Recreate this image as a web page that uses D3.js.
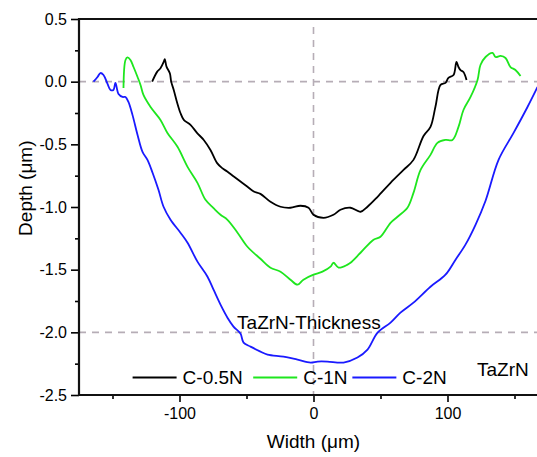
<!DOCTYPE html>
<html>
<head>
<meta charset="utf-8">
<script src="https://cdn.jsdelivr.net/npm/d3@7"></script>
<style>
  body { margin: 0; background: #fff; }
  svg { display: block; font-family: "Liberation Sans", Arial, sans-serif; }
</style>
</head>
<body>
<div class="canvas"></div>
<script>
// C-0.5N profile (width um, depth um)
const widthC05 = [-120.4, -116.6, -114.2, -111.7, -111.0, -109.7, -107.2, -106.2, -104.3, -101.7, -99.3, -96.8, -91.8, -86.8, -81.9, -76.9, -71.9, -68.1, -64.4, -59.5, -54.5, -49.5, -44.6, -39.6, -32.1, -24.6, -17.2, -9.7, -3.7, 0, 7.5, 14.9, 20.1, 27.6, 35.1, 40.3, 47.8, 57.5, 67.2, 74.6, 82.1, 87.3, 91.0, 94.8, 98.5, 100.7, 104.5, 106.7, 108.2, 109.7, 111.9, 114.2]
const depthC05 = [0.00, 0.08, 0.107, 0.16, 0.18, 0.12, 0.067, 0.0, -0.066, -0.17, -0.25, -0.305, -0.345, -0.41, -0.465, -0.545, -0.65, -0.69, -0.717, -0.757, -0.797, -0.837, -0.876, -0.895, -0.958, -0.998, -1.006, -0.99, -1.006, -1.062, -1.086, -1.062, -1.022, -1.006, -1.038, -0.998, -0.919, -0.807, -0.704, -0.624, -0.433, -0.361, -0.20, -0.026, -0.01, 0.03, 0.053, 0.157, 0.117, 0.093, 0.077, 0.014]

// C-1N profile
const widthC1 = [-141.8, -140.3, -138.8, -136.6, -134.3, -131.3, -129.1, -126.9, -121.6, -114.2, -109.0, -101.5, -94.0, -86.6, -80.6, -74.6, -69.4, -64.2, -56.7, -49.3, -39.6, -32.1, -24.6, -17.2, -11.9, -7.5, 0, 6.7, 12.7, 14.9, 18.7, 25.4, 27.6, 35.1, 44.8, 50.0, 57.5, 62.7, 70.1, 74.6, 79.9, 87.3, 92.5, 98.5, 103.7, 108.2, 111.9, 117.2, 122.4, 124.6, 128.4, 133.6, 135.8, 139.6, 143.3, 147.0, 150.7, 154.5]
const depthC1 = [-0.05, 0.173, 0.193, 0.173, 0.117, 0.037, -0.026, -0.106, -0.202, -0.305, -0.409, -0.52, -0.68, -0.807, -0.943, -1.009, -1.062, -1.102, -1.205, -1.317, -1.413, -1.484, -1.516, -1.58, -1.62, -1.58, -1.54, -1.516, -1.476, -1.445, -1.484, -1.46, -1.445, -1.365, -1.261, -1.237, -1.126, -1.078, -1.006, -0.887, -0.704, -0.584, -0.488, -0.465, -0.465, -0.361, -0.226, -0.122, 0.014, 0.133, 0.197, 0.229, 0.197, 0.205, 0.189, 0.117, 0.093, 0.045]

// C-2N profile
const widthC2 = [-164.2, -161.2, -159.0, -156.7, -153.7, -151.5, -149.3, -147.8, -145.5, -142.5, -140.3, -138.1, -135.1, -131.3, -127.6, -123.9, -120.1, -115.7, -111.9, -106.7, -99.3, -94.0, -86.6, -79.1, -74.6, -69.4, -64.2, -59.7, -54.5, -52.2, -47.0, -39.6, -34.3, -22.4, -11.9, -2.2, 3.0, 10.4, 22.4, 32.8, 40.3, 47.8, 57.5, 64.9, 74.6, 87.3, 98.5, 106.0, 113.4, 120.9, 128.4, 138.1, 149.3, 159.7, 167.2]
const depthC2 = [0.0, 0.037, 0.069, 0.053, -0.018, -0.066, -0.066, -0.01, -0.098, -0.122, -0.122, -0.162, -0.265, -0.425, -0.56, -0.624, -0.727, -0.863, -0.998, -1.102, -1.205, -1.285, -1.436, -1.556, -1.66, -1.779, -1.883, -1.954, -2.01, -2.082, -2.114, -2.154, -2.178, -2.194, -2.218, -2.241, -2.233, -2.233, -2.241, -2.201, -2.138, -2.002, -1.922, -1.843, -1.763, -1.636, -1.54, -1.42, -1.30, -1.142, -0.95, -0.624, -0.409, -0.202, -0.042]

const seriesNames = ['C-0.5N', 'C-1N', 'C-2N']
const xMajorTicks = [-100, 0, 100]
const xMinorTicks = [-150, -50, 50, 150]
const yMajorTicks = [0.5, 0.0, -0.5, -1.0, -1.5, -2.0, -2.5]
const yMinorTicks = [0.25, -0.25, -0.75, -1.25, -1.75, -2.25]
const refLinesY = [0.0, -2.0]
const refLineX = 0

const dims = { width: 537, height: 457 }
const plot = { left: 79, right: 548, top: 19, bottom: 395 }
const colors = ['#000000', '#1ee61e', '#1a1aff']

const svg = d3.select('.canvas')
    .append('svg')
    .attr('width', dims.width)
    .attr('height', dims.height)

const x = d3.scaleLinear().domain([-175, 175]).range([plot.left, plot.right])
const y = d3.scaleLinear().domain([-2.5, 0.5]).range([plot.bottom, plot.top])

const fmtY = d => d3.format('.1f')(d).replace('−', '-')
const fmtX = d => String(d)

// dashed reference lines
const refs = svg.append('g')
    .attr('stroke', '#b6adb6')
    .attr('stroke-width', 1.6)
    .attr('stroke-dasharray', '7,6')
refs.selectAll('line.h')
    .data(refLinesY)
    .enter().append('line')
    .attr('x1', plot.left).attr('x2', plot.right)
    .attr('y1', d => y(d)).attr('y2', d => y(d))
refs.append('line')
    .attr('x1', x(refLineX)).attr('x2', x(refLineX))
    .attr('y1', plot.top + 8).attr('y2', plot.bottom)

// profiles
const line = d3.line()
    .x(d => x(d[0]))
    .y(d => y(d[1]))
    .curve(d3.curveCatmullRom)

const series = [
    d3.zip(widthC05, depthC05),
    d3.zip(widthC1, depthC1),
    d3.zip(widthC2, depthC2)
]

svg.append('g').selectAll('path')
    .data(series)
    .enter().append('path')
    .attr('d', line)
    .attr('fill', 'none')
    .attr('stroke', (d, i) => colors[i])
    .attr('stroke-width', 1.8)
    .attr('stroke-linejoin', 'round')

// axes
const styleAxis = g => {
    g.select('.domain').remove()
    g.selectAll('.tick line').attr('stroke', '#000').attr('stroke-width', 1.6)
    g.selectAll('.tick text').attr('font-size', 16).attr('fill', '#000')
        .attr('font-family', '"Liberation Sans", Arial, sans-serif')
}

svg.append('g')
    .attr('transform', `translate(${plot.left},0)`)
    .call(d3.axisLeft(y).tickValues(yMajorTicks).tickFormat(fmtY).tickSize(8).tickPadding(4))
    .call(styleAxis)
svg.append('g')
    .attr('transform', `translate(${plot.left},0)`)
    .call(d3.axisLeft(y).tickValues(yMinorTicks).tickFormat('').tickSize(4))
    .call(styleAxis)

svg.append('g')
    .attr('transform', `translate(0,${plot.bottom})`)
    .call(d3.axisBottom(x).tickValues(xMajorTicks).tickFormat(fmtX).tickSize(7).tickPadding(6))
    .call(styleAxis)
svg.append('g')
    .attr('transform', `translate(0,${plot.bottom})`)
    .call(d3.axisBottom(x).tickValues(xMinorTicks).tickFormat('').tickSize(4))
    .call(styleAxis)

// frame
const frame = svg.append('g').attr('stroke', '#111').attr('stroke-width', 2.2)
frame.append('line').attr('x1', plot.left).attr('x2', plot.right).attr('y1', plot.top).attr('y2', plot.top)
frame.append('line').attr('x1', plot.left).attr('x2', plot.right).attr('y1', plot.bottom).attr('y2', plot.bottom)
frame.append('line').attr('x1', plot.left).attr('x2', plot.left).attr('y1', plot.top - 1).attr('y2', plot.bottom + 1)

// axis titles
svg.append('text')
    .attr('x', x(0)).attr('y', 448)
    .attr('text-anchor', 'middle')
    .attr('font-size', 19)
    .text('Width (μm)')
svg.append('text')
    .attr('transform', `translate(32,${y(-0.85)}) rotate(-90)`)
    .attr('text-anchor', 'middle')
    .attr('font-size', 19)
    .text('Depth (μm)')

// annotations
svg.append('text')
    .attr('x', x(-57)).attr('y', y(-1.97))
    .attr('font-size', 19)
    .text('TaZrN-Thickness')
svg.append('text')
    .attr('x', x(122)).attr('y', y(-2.35))
    .attr('font-size', 19)
    .text('TaZrN')

// legend
const legendX = [-135, -45, 29]
const legY = y(-2.36)
const legend = svg.append('g').selectAll('g')
    .data(seriesNames)
    .enter().append('g')
    .attr('transform', (d, i) => `translate(${x(legendX[i])},${legY})`)
legend.append('line')
    .attr('x1', 0).attr('x2', 44)
    .attr('stroke', (d, i) => colors[i])
    .attr('stroke-width', 2)
legend.append('text')
    .attr('x', 50).attr('y', 7)
    .attr('font-size', 19)
    .text(d => d)
</script>
</body>
</html>
